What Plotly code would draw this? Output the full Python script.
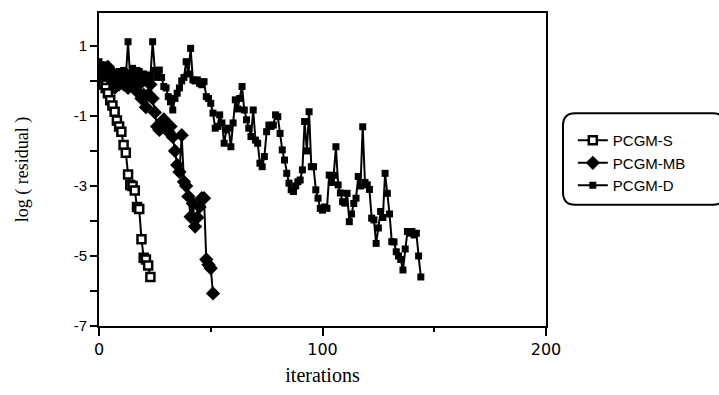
import plotly.graph_objects as go

# ---------------- data ----------------
pcgm_s = [0.4, 0.1, -0.1, -0.2, -0.35, -0.55, -0.7, -0.88, -1.13, -1.3, -1.45, -1.83,
          -2.05, -2.67, -2.97, -3.0, -3.13, -3.6, -3.66, -4.52, -5.05, -5.1, -5.27, -5.6]

pcgm_mb = [0.3, 0.1, 0.35, 0.2, 0.4, 0.3, 0.0, -0.2, 0.0, -0.1, 0.1, -0.1, 0.2, -0.2,
           0.1, -0.1, 0.0, -0.3, -0.1, -0.5, -0.4, -0.75, -0.4, -0.1, -0.5, -0.9,
           -1.3, -1.4, -1.3, -1.1, -1.2, -1.45, -1.3, -1.6, -2.0, -2.4, -2.6, -1.55,
           -2.88, -3.0, -3.3, -3.88, -3.5, -4.16, -3.9, -3.6, -3.35, -3.35, -5.1, -5.25,
           -5.35, -6.07]

pcgm_d = [0.55, 0.3, 0.2, 0.46, 0.3, 0.1, 0.2, 0.0, 0.15, 0.27, 0.0, 0.3, 0.1, 1.12,
          0.0, 0.36, 0.2, 0.3, 0.27, 0.1, 0.2, 0.0, 0.17, 0.1, 1.12, 0.3, 0.1, 0.31,
          0.1, -0.16, -0.2, -0.45, -0.6, -0.83, -0.5, -0.35, -0.2, 0.0, 0.1, 0.55,
          0.2, 0.93, 0.03, 0.0, 0.03, -0.07, -0.11, -0.02, -0.45, -0.5, -0.64, -0.92,
          -1.35, -1.3, -0.97, -1.2, -1.78, -1.4, -1.35, -1.88, -1.2, -0.54, -0.8, -0.5,
          -0.16, -0.83, -1.11, -1.35, -1.59, -0.83, -1.69, -1.78, -2.35, -2.45, -2.16,
          -1.45, -1.26, -1.3, -1.26, -0.97, -1.02, -1.5, -1.97, -2.26, -2.64, -2.92,
          -3.11, -3.16, -3.0, -2.88, -2.83, -2.54, -1.16, -2.0, -0.88, -2.45, -2.45,
          -3.11, -3.35, -3.64, -3.69, -3.6, -3.64, -2.69, -2.9, -2.7, -1.88, -2.97,
          -3.2, -3.45, -3.49, -3.21, -4.02, -3.8, -3.5, -3.35, -2.73, -3.0, -1.31,
          -2.9, -2.97, -3.1, -3.92, -3.97, -4.64, -4.2, -3.73, -3.9, -2.64, -3.21,
          -3.8, -4.59, -4.6, -4.88, -5.0, -5.1, -5.4, -4.8, -4.3, -4.35, -4.3, -4.4,
          -4.35, -5.0, -5.6]

series_names = ["PCGM-S", "PCGM-MB", "PCGM-D"]
y_tickvals = [-7, -6, -5, -4, -3, -2, -1, 0, 1]
y_ticktext = ["-7", "", "-5", "", "-3", "", "-1", "", "1"]
x_tickvals = [0, 100, 200]
x_ticktext = ["0", "100", "200"]

# ---------------- figure ----------------
fig = go.Figure()

fig.add_trace(go.Scatter(
    x=list(range(len(pcgm_s))), y=pcgm_s, name=series_names[0],
    mode="lines+markers",
    line=dict(color="black", width=2),
    marker=dict(symbol="square", size=8, color="white",
                line=dict(color="black", width=2.5)),
))
fig.add_trace(go.Scatter(
    x=list(range(len(pcgm_mb))), y=pcgm_mb, name=series_names[1],
    mode="lines+markers",
    line=dict(color="black", width=2),
    marker=dict(symbol="diamond", size=11, color="black"),
))
fig.add_trace(go.Scatter(
    x=list(range(len(pcgm_d))), y=pcgm_d, name=series_names[2],
    mode="lines+markers",
    line=dict(color="black", width=2),
    marker=dict(symbol="square", size=7, color="black"),
))

# rounded legend frame (paper coords)
x0, x1 = 1.038, 1.40
y0, y1 = 0.387, 0.680
rx, ry = 0.027, 0.040
path = (f"M {x0+rx},{y1} L {x1-rx},{y1} Q {x1},{y1} {x1},{y1-ry} "
        f"L {x1},{y0+ry} Q {x1},{y0} {x1-rx},{y0} L {x0+rx},{y0} "
        f"Q {x0},{y0} {x0},{y0+ry} L {x0},{y1-ry} Q {x0},{y1} {x0+rx},{y1} Z")
fig.add_shape(type="path", path=path, xref="paper", yref="paper",
              line=dict(color="black", width=2))

fig.update_layout(
    width=719, height=395,
    margin=dict(l=99, r=173, t=13, b=69),
    paper_bgcolor="white", plot_bgcolor="white",
    showlegend=True,
    legend=dict(x=1.06, y=0.645, xanchor="left", yanchor="top",
                bgcolor="rgba(0,0,0,0)", borderwidth=0,
                font=dict(family="Liberation Sans, Arial", size=15, color="black"),
                tracegroupgap=0, itemwidth=30),
    font=dict(family="Liberation Sans, Arial", color="black"),
)

fig.update_xaxes(
    range=[0, 200], tickvals=x_tickvals, ticktext=x_ticktext,
    ticks="outside", ticklen=8, tickwidth=2, tickcolor="black",
    minor=dict(tickvals=[50, 150], ticks="outside", ticklen=4, tickwidth=2, tickcolor="black"),
    showline=True, linecolor="black", linewidth=2, mirror=True,
    showgrid=False, zeroline=False,
    tickfont=dict(family="DejaVu Sans", size=16, color="black"),
    title=dict(text="iterations", standoff=10,
               font=dict(family="Liberation Serif, Times New Roman", size=20, color="black")),
)
fig.update_yaxes(
    range=[-7, 1.94], tickvals=y_tickvals, ticktext=y_ticktext,
    ticks="outside", ticklen=7, tickwidth=2, tickcolor="black",
    showline=True, linecolor="black", linewidth=2, mirror=True,
    showgrid=False, zeroline=False,
    tickfont=dict(family="Liberation Sans, Arial", size=15, color="black"),
    title=dict(text="log ( residual )", standoff=40,
               font=dict(family="Liberation Serif, Times New Roman", size=18, color="black")),
)

fig.write_html("out.html")
